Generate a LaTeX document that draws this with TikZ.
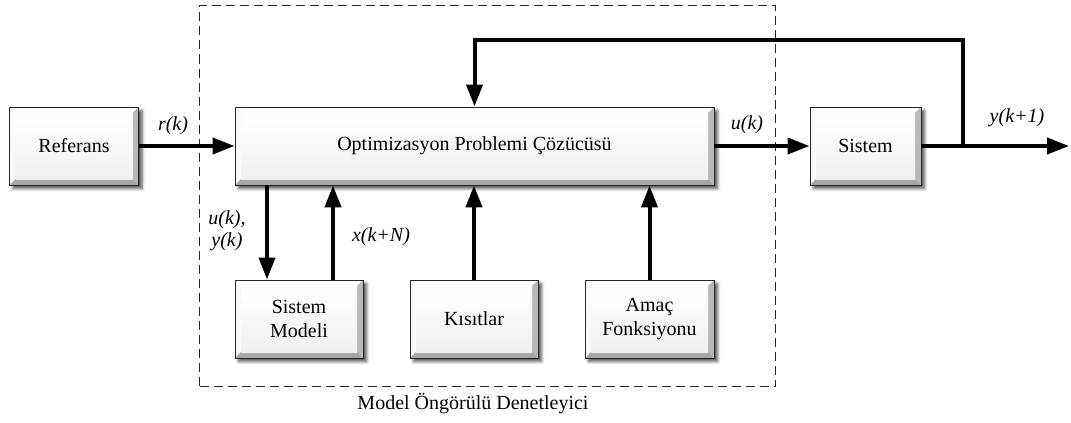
\documentclass[tikz,border=0pt]{standalone}
\usepackage{fontspec}
\setmainfont{Liberation Serif}
\newfontfamily\diagfont{Liberation Serif}
\usetikzlibrary{arrows.meta,calc,shadows.blur}
\begin{document}
\begin{tikzpicture}[x=1pt,y=-1pt,
  font=\diagfont\fontsize{20}{24}\selectfont,
  % raised, bevelled block with a soft shadow
  block/.style={draw=black!85, line width=0.9pt, fill=gray!20,
    align=center, inner sep=2pt,
    blur shadow={shadow xshift=3.5pt, shadow yshift=-3.5pt,
      shadow blur steps=6, shadow blur radius=3pt, shadow opacity=70},
    path picture={
      \coordinate (bnw) at (path picture bounding box.north west);
      \coordinate (bne) at (path picture bounding box.north east);
      \coordinate (bsw) at (path picture bounding box.south west);
      \coordinate (bse) at (path picture bounding box.south east);
      \fill[white] (bnw) -- (bne) -- ([xshift=-6pt,yshift=-6pt]bne)
        -- ([xshift=6pt,yshift=-6pt]bnw) -- cycle;
      \fill[gray!5] (bnw) -- ([xshift=6pt,yshift=-6pt]bnw)
        -- ([xshift=6pt,yshift=6pt]bsw) -- (bsw) -- cycle;
      \fill[gray!55] (bne) -- (bse) -- ([xshift=-6pt,yshift=6pt]bse)
        -- ([xshift=-6pt,yshift=-6pt]bne) -- cycle;
      \fill[gray!70] (bsw) -- (bse) -- ([xshift=-6pt,yshift=6pt]bse)
        -- ([xshift=6pt,yshift=6pt]bsw) -- cycle;
      \shade[top color=white, bottom color=gray!12]
        ([xshift=6pt,yshift=-6pt]bnw) rectangle ([xshift=-6pt,yshift=6pt]bse);
    }},
  flow/.style={line width=4pt, line join=miter,
    -{Triangle[length=22pt,width=16pt]}},
  sig/.style={font=\diagfont\fontsize{20}{22}\selectfont\itshape, inner sep=0pt}
]
\useasboundingbox (0,0) rectangle (1071,423);

% controller frame
\node[draw=black!85, line width=1pt, dash pattern=on 9pt off 5pt,
  minimum width=576pt, minimum height=381pt, anchor=north west, inner sep=0pt]
  (mpc) at (199,5) {};
\node (mpclbl) at (473,404) {Model Öngörülü Denetleyici};

% blocks
\node[block, minimum width=129pt, minimum height=78pt] (ref) at (74,146) {Referans};
\node[block, minimum width=479pt, minimum height=78pt] (opt) at (474.5,146)
  {Optimizasyon Problemi Çözücüsü};
\node[block, minimum width=111pt, minimum height=78pt] (sys) at (865.5,146) {Sistem};
\node[block, minimum width=128pt, minimum height=78pt] (model) at (299,319)
  {Sistem\\Modeli};
\node[block, minimum width=128pt, minimum height=78pt] (cons) at (474,319) {Kısıtlar};
\node[block, minimum width=129pt, minimum height=78pt] (cost) at (649.5,319)
  {Amaç\\Fonksiyonu};

% helper points
\coordinate (out) at (1069,146);
\coordinate (split) at (963,146);
\coordinate (fbtop) at (963,40);
\coordinate (mdown) at ([xshift=-32pt]model.north);
\coordinate (mup) at ([xshift=34pt]model.north);

% connectors
\draw[flow] (ref.east) -- (opt.west);
\draw[flow] (opt.east) -- (sys.west);
\draw[flow] (sys.east) -- (out);
\draw[flow] (split) -- (fbtop) -| (opt.north);
\draw[flow] (mdown |- opt.south) -- (mdown);
\draw[flow] (mup) -- (mup |- opt.south);
\draw[flow] (cons.north) -- (cons.north |- opt.south);
\draw[flow] (cost.north) -- (cost.north |- opt.south);

% signal labels
\node[sig] (lr) at (173,126) {r(k)};
\node[sig] (lu) at (747,125) {u(k)};
\node[sig] (ly) at (1017,118) {y(k+1)};
\node[sig, align=left] (luy) at (227,231) {u(k),\\\hspace*{3pt}y(k)};
\node[sig] (lx) at (381,237) {x(k+N)};
\end{tikzpicture}
\end{document}
